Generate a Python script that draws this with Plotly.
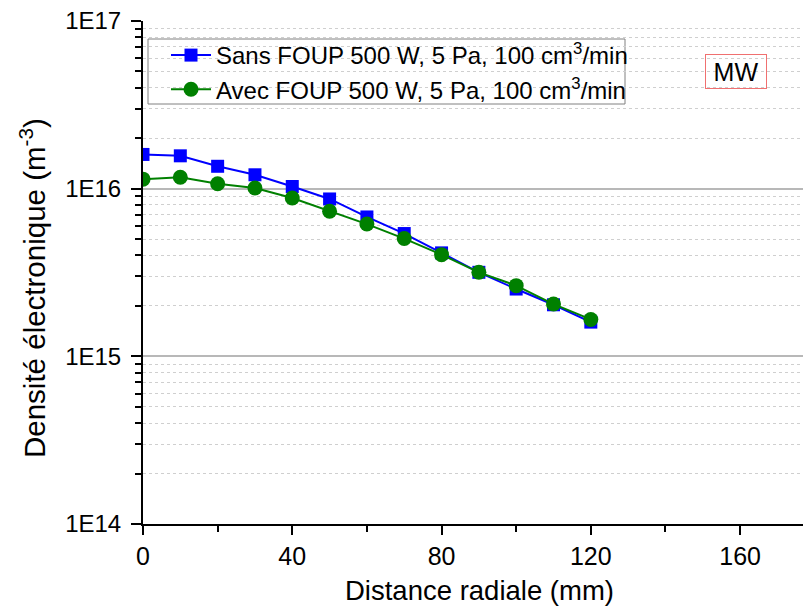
import plotly.graph_objects as go

distance = [0, 10, 20, 30, 40, 50, 60, 70, 80, 90, 100, 110, 120]
sans_foup = [1.60e16, 1.57e16, 1.36e16, 1.21e16, 1.03e16, 8.68e15, 6.78e15, 5.40e15,
             4.14e15, 3.17e15, 2.52e15, 2.03e15, 1.60e15]
avec_foup = [1.14e16, 1.17e16, 1.07e16, 1.01e16, 8.80e15, 7.33e15, 6.15e15, 5.04e15,
             4.04e15, 3.17e15, 2.64e15, 2.05e15, 1.66e15]
y_tickvals = [1e14, 1e15, 1e16, 1e17]
y_ticktext = ["1E14", "1E15", "1E16", "1E17"]
x_tickvals = [0, 40, 80, 120, 160]

FONT = "Liberation Sans, Arial, sans-serif"

# page is offset by the 8px body margin
OFF = 8
PL, PR, PT, PB = 143, 811, 21, 524


def px(xp):
    return (xp - PL) / (PR - PL)


def py(yp):
    return 1 - (yp - PT) / (PB - PT)


fig = go.Figure()
fig.add_trace(go.Scatter(
    x=distance, y=sans_foup, mode="lines+markers",
    name="Sans FOUP 500 W, 5 Pa, 100 cm<sup>3</sup>/min",
    line=dict(color="#0000FF", width=2),
    marker=dict(symbol="square", size=13, color="#0000FF"),
))
fig.add_trace(go.Scatter(
    x=distance, y=avec_foup, mode="lines+markers",
    name="Avec FOUP 500 W, 5 Pa, 100 cm<sup>3</sup>/min",
    line=dict(color="#008000", width=2),
    marker=dict(symbol="circle", size=15, color="#008000"),
))

W, H = 811 - OFF, 610 - OFF
fig.update_layout(
    width=W, height=H,
    margin=dict(l=PL - OFF, r=0, t=PT - OFF, b=H - (PB - OFF), autoexpand=False),
    paper_bgcolor="white", plot_bgcolor="white",
    font=dict(family=FONT, color="black", size=24),
    showlegend=True,
    legend=dict(
        x=px(166), y=py(33), xanchor="left", yanchor="top",
        bordercolor="rgba(0,0,0,0)", borderwidth=0, bgcolor="rgba(0,0,0,0)",
        font=dict(size=24, family=FONT),
        itemwidth=40,
    ),
    xaxis=dict(
        range=[0, 179], tickvals=x_tickvals,
        ticks="outside", ticklen=9, tickwidth=2, tickcolor="black",
        showline=True, linecolor="black", linewidth=2,
        showgrid=False, zeroline=False,
        tickfont=dict(size=25), ticklabeloverflow="allow",
        minor=dict(dtick=20, tick0=0, ticks="outside", ticklen=6, tickwidth=2,
                   tickcolor="black", showgrid=False),
    ),
    yaxis=dict(
        type="log", range=[14, 17],
        tickvals=y_tickvals, ticktext=y_ticktext,
        ticks="outside", ticklen=10, tickwidth=2, tickcolor="black",
        showline=True, linecolor="black", linewidth=2,
        showgrid=True, gridcolor="#b8b8b8", gridwidth=1.5,
        zeroline=False,
        tickfont=dict(size=24), ticklabeloverflow="allow", ticklabelstandoff=5,
        minor=dict(dtick="D1", ticks="outside", ticklen=6, tickwidth=1.5, tickcolor="black",
                   showgrid=True, gridcolor="#cfcfcf", griddash="dot", gridwidth=1),
    ),
)

# legend frame (white box with grey border, drawn over the grid)
fig.add_shape(
    type="rect", xref="paper", yref="paper",
    x0=px(148), x1=px(625), y0=py(104), y1=py(39),
    line=dict(color="#808080", width=1), fillcolor="white", layer="between",
)

# axis titles
fig.add_annotation(
    x=px(479), y=py(590), xref="paper", yref="paper",
    text="Distance radiale (mm)", showarrow=False,
    xanchor="center", yanchor="middle", font=dict(size=27.5, family=FONT),
)
fig.add_annotation(
    x=px(32), y=py(288), xref="paper", yref="paper",
    text="Densité électronique (m<sup>-3</sup>)", showarrow=False, textangle=-90,
    xanchor="center", yanchor="middle", font=dict(size=29.5, family=FONT),
)
# MW label
fig.add_annotation(
    x=px(735.5), y=py(71), xref="paper", yref="paper", text="MW", showarrow=False,
    xanchor="center", yanchor="middle",
    font=dict(size=25, family=FONT), width=54, height=27,
    bordercolor="#f07070", borderwidth=1, borderpad=3,
)

fig.write_html("out.html")
